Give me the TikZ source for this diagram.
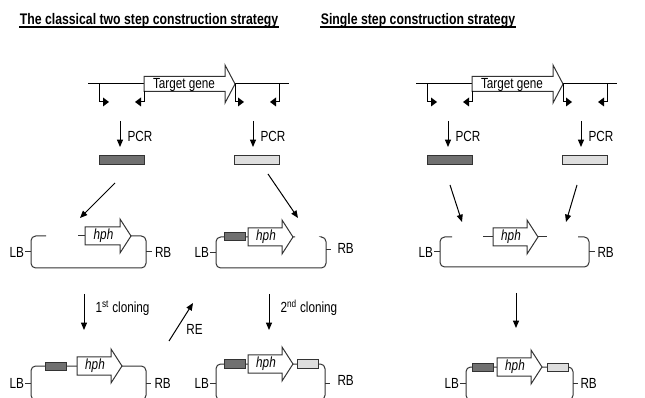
\documentclass[tikz,border=0pt]{standalone}
\usepackage{fontspec}
\setmainfont{Liberation Sans}[FakeStretch=0.8]
\usetikzlibrary{arrows.meta}

\tikzset{every picture/.style={line width=0.75pt}}
\tikzset{
	lbl/.style={font=\fontsize{11}{13}\selectfont, inner sep=0pt},
	hdr/.style={font=\fontsize{11.5}{13}\selectfont\bfseries, inner sep=0pt},
	flow/.style={-{Triangle[length=5.5pt,width=4.5pt]}},
	vec/.style={draw=black!80, rounded corners=3.5pt},
	fragbar/.style={draw=black!80, inner sep=0pt, minimum width=33.75pt, minimum height=6.75pt},
	fragbox/.style={draw=black!80, inner sep=0pt, minimum width=15.75pt, minimum height=6pt},
	darkfill/.style={fill={rgb, 255:red, 112; green, 112; blue, 112 }},
	lightfill/.style={fill={rgb, 255:red, 222; green, 222; blue, 222 }}}

% hph block arrow: name, left x, tip x, line y
\newcommand{\hpharrow}[4]{%
	\draw [draw=black!80, fill=white] (#2,#4-9) -- (#3-11,#4-9) -- (#3-11,#4-17) -- (#3,#4) -- (#3-11,#4+17) -- (#3-11,#4+9) -- (#2,#4+9) -- cycle ;
	\node [lbl] (#1) at ({(#2+#3-11)/2+1},#4) {\itshape hph};}

\begin{document}
\begin{tikzpicture}[x=0.75pt,y=0.75pt,yscale=-1,xscale=1]
	\useasboundingbox (0,0) rectangle (645,398);
	\clip (0,0) rectangle (645,398);

	% Titles
	\node [hdr, anchor=base] (ttlTwo) at (149,24.5) {The classical two step construction strategy};
	\draw [line width=1.1pt] ([yshift=2pt]ttlTwo.base west) -- ([yshift=2pt]ttlTwo.base east);
	\node [hdr, anchor=base] (ttlOne) at (418,24.5) {Single step construction strategy};
	\draw [line width=1.1pt] ([yshift=2pt]ttlOne.base west) -- ([yshift=2pt]ttlOne.base east);

	% Genomic locus, primers, PCR fragments (left and right)
	\foreach \dx/\g in {0/a,328/b}{
	\begin{scope}[shift={(\dx,0)}]
		\draw (88,84) -- (289,84);
		\draw [draw=black!80, fill=white] (144,76.5) -- (225,76.5) -- (225,65) -- (235,84) -- (225,103) -- (225,91.5) -- (144,91.5) -- cycle ;
		\node [lbl] (gene\g) at (184,84.5) {Target gene};
		% primers
		\draw (99,84) -- (99,102) -- (103,102);
		\fill (103,97.5) -- (109,102) -- (103,106.5) -- cycle;
		\draw (144,91.5) -- (144,102) -- (141,102);
		\fill (141,97.5) -- (135,102) -- (141,106.5) -- cycle;
		\draw (235,84) -- (235,102) -- (238,102);
		\fill (238,97.5) -- (244,102) -- (238,106.5) -- cycle;
		\draw (279,84) -- (279,102) -- (276,102);
		\fill (276,97.5) -- (270,102) -- (276,106.5) -- cycle;
		% PCR
		\coordinate (pcrLs\g) at (120,121);
		\coordinate (pcrLe\g) at (120,147);
		\coordinate (pcrRs\g) at (253,121);
		\coordinate (pcrRe\g) at (253,147);
		\draw [flow] (pcrLs\g) -- (pcrLe\g);
		\draw [flow] (pcrRs\g) -- (pcrRe\g);
		\node [lbl, anchor=west] (pcrL\g) at (127,136) {PCR};
		\node [lbl, anchor=west] (pcrR\g) at (260,136) {PCR};
		\node [fragbar, darkfill] (dbar\g) at (121.5,160.5) {};
		\node [fragbar, lightfill] (lbar\g) at (256.5,160.5) {};
	\end{scope}}

	% Vector with hph (left)
	\draw [vec] (46,236) -- (31,236) -- (31,268) -- (146,268) -- (146,236) -- (131,236);
	\draw [draw=black!80] (78,236) -- (85,236);
	\hpharrow{hphA}{85}{131}{236}
	\draw [draw=black!80] (25,252) -- (31,252);
	\node [lbl, anchor=east] (lbA) at (24.5,252) {LB};
	\draw [draw=black!80] (146,252) -- (152,252);
	\node [lbl, anchor=west] (rbA) at (154.5,252) {RB};

	% Vector after 1st cloning, re-opened (middle)
	\draw [vec] (295,237) -- (216,237) -- (216,268) -- (326,268) -- (326,237) -- (322,237);
	\node [fragbox, darkfill] (dboxB) at (235,237) {};
	\hpharrow{hphB}{248}{293}{237}
	\draw [draw=black!80] (210,252.5) -- (216,252.5);
	\node [lbl, anchor=east] (lbB) at (209.5,252.5) {LB};
	\draw [draw=black!80] (326,250) -- (331,250);
	\node [lbl, anchor=west] (rbB) at (337,248) {RB};

	% Vector after 1st cloning (bottom left)
	\draw [vec] (31,366) rectangle (146,400);
	\node [fragbox, darkfill] (dboxC) at (56,366) {};
	\hpharrow{hphC}{77}{122}{366}
	\draw [draw=black!80] (25,383) -- (31,383);
	\node [lbl, anchor=east] (lbC) at (24.5,383) {LB};
	\draw [draw=black!80] (146,383) -- (151,383);
	\node [lbl, anchor=west] (rbC) at (154,383) {RB};

	% Final construct, two step (bottom middle)
	\draw [vec] (216,364) rectangle (325,400);
	\node [fragbox, darkfill] (dboxD) at (235,364) {};
	\hpharrow{hphD}{248}{293}{364}
	\node [fragbox, lightfill] (lboxD) at (308,364) {};
	\draw [draw=black!80] (210,383) -- (216,383);
	\node [lbl, anchor=east] (lbD) at (209.5,383) {LB};
	\draw [draw=black!80] (325,383) -- (330,383);
	\node [lbl, anchor=west] (rbD) at (337,380) {RB};

	% Vector with hph (right)
	\draw [vec] (452,237) -- (440,237) -- (440,267) -- (589,267) -- (589,237) -- (578,237);
	\draw [draw=black!80] (483,237) -- (493,237);
	\draw [draw=black!80] (538,237) -- (547,237);
	\hpharrow{hphE}{493}{538}{237}
	\draw [draw=black!80] (434,252) -- (440,252);
	\node [lbl, anchor=east] (lbE) at (433.5,252) {LB};
	\draw [draw=black!80] (589,252) -- (595,252);
	\node [lbl, anchor=west] (rbE) at (597,252) {RB};

	% Final construct, single step (bottom right)
	\draw [vec] (466,367) rectangle (573,400);
	\node [fragbox, darkfill] (dboxF) at (483,367) {};
	\hpharrow{hphF}{497}{542}{367}
	\node [fragbox, lightfill] (lboxF) at (557.5,367) {};
	\draw [draw=black!80] (460,383) -- (466,383);
	\node [lbl, anchor=east] (lbF) at (459.5,383) {LB};
	\draw [draw=black!80] (573,383) -- (578,383);
	\node [lbl, anchor=west] (rbF) at (580,383) {RB};

	% Cloning arrows
	\coordinate (toAs) at (115,183);
	\coordinate (toAe) at (80,218);
	\coordinate (toBs) at (268,174);
	\coordinate (toBe) at (298,218);
	\coordinate (toEls) at (450,185);
	\coordinate (toEle) at (462,222);
	\coordinate (toErs) at (577,185);
	\coordinate (toEre) at (566,222);
	\draw [flow] (toAs) -- (toAe);
	\draw [flow] (toBs) -- (toBe);
	\draw [flow] (toEls) -- (toEle);
	\draw [flow] (toErs) -- (toEre);

	\coordinate (clOnes) at (84,294);
	\coordinate (clOnee) at (84,330);
	\draw [flow] (clOnes) -- (clOnee);
	\node [lbl, anchor=west] (clOne) at (95,308) {1\textsuperscript{st} cloning};

	\coordinate (res) at (169,341);
	\coordinate (ree) at (193,303);
	\draw [flow] (res) -- (ree);
	\node [lbl] (re) at (194.5,329) {RE};

	\coordinate (clTwos) at (269,294);
	\coordinate (clTwoe) at (269,330);
	\draw [flow] (clTwos) -- (clTwoe);
	\node [lbl, anchor=west] (clTwo) at (280,308) {2\textsuperscript{nd} cloning};

	\coordinate (singles) at (516,293);
	\coordinate (singlee) at (516,328);
	\draw [flow] (singles) -- (singlee);

\end{tikzpicture}
\end{document}
